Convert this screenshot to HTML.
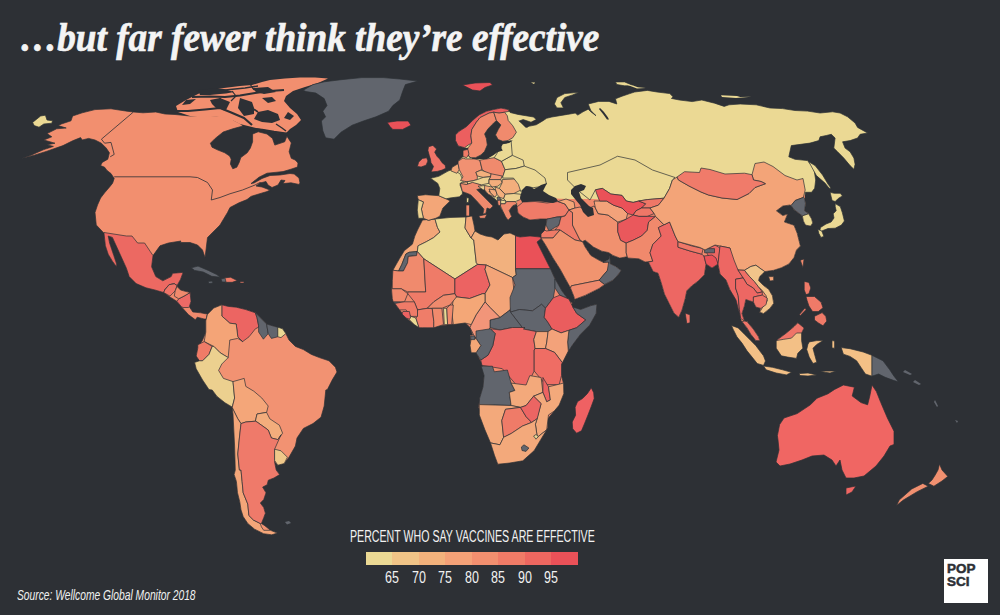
<!DOCTYPE html>
<html><head><meta charset="utf-8">
<style>
html,body{margin:0;padding:0;}
body{width:1000px;height:615px;background:#2d3035;position:relative;overflow:hidden;}
.t{position:absolute;white-space:nowrap;line-height:1;}
#title{left:20px;top:13px;font:bold italic 41px "Liberation Serif",serif;color:#f4f4f4;transform:scaleX(0.908);transform-origin:0 0;-webkit-text-stroke:0.7px #f4f4f4;}
#leg{left:350px;top:528px;font:16px "Liberation Sans",sans-serif;color:#f2f2f2;transform-origin:0 0;transform:scaleX(0.664);}
.sw{position:absolute;top:552px;height:13px;width:26.5px;}
.lab{position:absolute;top:569.5px;width:40px;text-align:center;font:16px "Liberation Sans",sans-serif;color:#f2f2f2;transform-origin:50% 0;transform:scaleX(0.78);line-height:1;}
#src{left:17px;top:587px;font:italic 14px "Liberation Sans",sans-serif;color:#f0f0f0;transform-origin:0 0;transform:scaleX(0.734);}
#logo{position:absolute;left:944px;top:559px;width:44px;height:44px;background:#fff;}
#logo span{position:absolute;left:3px;font:bold 13.5px "Liberation Sans",sans-serif;color:#2d3035;line-height:1;-webkit-text-stroke:0.5px #2d3035;}
</style></head><body>
<svg id="map" width="1000" height="615" viewBox="0 0 1000 615" style="position:absolute;left:0;top:0"><defs><clipPath id="cEur"><path d="M428.6 220.3 423.4 218.3 418.3 218.3 417.3 210.1 418.3 199.8 417.3 195.7 425.5 194.7 438.8 195.7 439.8 188.6 437.8 183.4 430.6 178.3 438.8 176.3 448 171.1 450.9 170.9 452.1 167.3 458.1 163.7 458.1 161.3 463 156.5 463 150.5 467.8 149.3 464.6 147.7 458.2 145.9 455.5 140.4 455.5 134.9 459.1 131.3 466.4 126.7 472.7 120.4 479.1 114.9 486.4 111.3 493.7 109.5 501 108.1 508.2 109.5 510.2 112.5 518 114.4 525.8 115.7 533.6 117 536.2 119.6 531 122.2 523.2 119.6 519.3 120.9 525.8 127.4 529.7 126.1 536.2 124.8 542.7 120.9 546.6 118.3 551.8 117 559.6 115.7 567.4 114.4 575.2 113.1 577.8 115.1 583 111.8 588.2 109.2 590.8 111.8 596 115.7 590.8 110.5 588.2 104 598.6 101.4 609 101.4 616.8 104 615.5 98.8 622 96.2 629.8 93.6 634.6 92 647.4 90.4 657 92 669.8 93.6 673 96.8 671.4 98.4 679.4 100 692.2 101.6 701.8 100 714.6 103.2 724.2 106.4 729 104.8 740.2 104 756.2 104.8 770 108 782.5 108.6 795 110.5 807.5 111.1 820.1 113 832.6 111.8 840.1 113 847.6 116.8 855.1 123 857.6 127.4 867.6 133 860.1 134.3 857.6 138 850.1 140.6 842.6 141.8 845.1 148.1 850.1 151.8 853.9 158.1 855.1 164.3 853.9 169.3 850.1 165.6 843.8 158.1 837.6 151.8 833.8 148.1 835.1 138 831.3 134.3 826.3 135.5 820.1 136.8 818.8 140.6 810 143.1 791.3 145.6 788.8 156.8 795 159.3 807.5 160.6 813.8 168.1 815.7 180 814.7 188.2 811.6 192.3 805.5 192.3 804.5 198.4 805.5 203.6 804.5 210.7 808.6 213.8 811.6 218.9 812.7 223 810.6 226.1 805.5 225.1 803.4 221 802.4 215.9 798.3 212.8 794.2 209.7 791.1 205.6 790 205 782.8 206 776.4 210.8 782.8 215.6 787.6 214 784.4 222 794 225.2 797.2 233.2 800.4 246 796.5 250 794 257.6 788.9 264 781.3 267.8 773.7 270.3 764.8 271.6 759.7 276.6 758.5 280.5 763.5 285.5 768.6 289.3 772.4 295.7 773.7 303.3 769.9 308.4 763.5 313.5 759.7 312.2 761 308.4 755.9 307.1 753.4 302 749.6 300.8 745.8 299.5 744.5 305.8 742 313.5 744.5 321.1 747 321.6 753.4 329.2 758.5 336.8 759.7 340.6 755.9 340.6 750.8 334.3 747 327.9 742 321.6 740.7 318.5 739.4 309.6 738.2 295.7 735.6 288.1 730 290 726 280 720 274 718 264 712 268 706 264 704.4 274.8 698 281.2 691.6 286 686.8 290.8 685.2 298.8 682 310 678.8 317.2 674 313.2 669.2 303.6 664.4 294 661.2 282.8 658 273.2 653.2 271.6 648.4 262 645.2 262 638.8 258.8 627.6 258 626.7 256.8 619.8 258.1 612.9 255.4 608.7 252.6 601.8 251.2 593.5 247.1 585.2 240.2 582.5 241.6 585.2 247.1 590.8 255.4 597.7 259.5 603.2 262.3 608.7 259.5 610 256 610.1 263.7 615.6 266.4 621.2 270.6 617 276 612.9 280.2 604.6 284.4 599.1 288.5 585.2 295.4 574.2 299.6 575 302.3 574 296.8 570.5 288 565.5 279 560 269 553 258 545.5 245 541 238 545 230 546 225 547 219 540 219 530 220 523 217 518 213 517 207 517.6 204.5 512.8 205.7 509.2 210.5 511.6 216.6 508 220.2 505.5 216.6 503.1 211.7 500.7 208.1 499.5 203.3 495.9 199.7 491.1 196.1 486.3 192.5 483.9 187.7 476.7 189.6 482.9 195.7 489 201.9 493.1 206 490 209.1 487 208 485.9 213.2 482.9 214.2 483.9 209.1 476.7 200.9 470.6 194.7 465.5 192.7 462.4 191.6 462.4 194 459.3 196.8 451.1 197.8 446 198.8 450.1 200.9 442.9 208 439.8 216.2 435.7 218.3 428.6 220.3Z"/></clipPath></defs><path d="M21.4 158.4 31 155.2 43.8 149.6 53.4 146.4 47 144.8 55 143.2 43.8 140 51.8 136.8 47 133.6 56.6 128.8 66.2 128 58.2 125.6 61.4 124 71 120.8 72.6 116 82.2 112.8 95 109.6 111 108.8 127 111.2 133.4 112 143 112.8 155.8 112 165 114 175 114.5 190 116 205 115 217 116 225 114 233 116 236.4 117 233.2 120 239.6 123.2 243 126 232.8 128.8 223.2 132 215.2 138.4 210.4 143.2 212 147.2 216.8 149.6 224.8 152.8 229.6 156 231.2 159.2 230.4 164 232.8 168.8 236.8 167.2 239.2 162.4 240.8 157.6 247.2 152.8 250.4 148 252.6 141.8 252.6 134 258.2 131.8 267 134 272.5 138.4 274.8 145.1 284.7 141.8 286.9 136.2 291.3 142.9 289.1 151.7 291.3 158.3 295.2 160 298 163 297.5 167 291 169.2 283 171.6 275 172.4 267 173.2 259 177.2 251 183.6 254 183 262 178.5 270 175.5 280 175 290 173.5 294.2 174 299 178 300 183 299 184.4 291 182.8 283 183.6 285 180.5 281 180 278 185 272 187.5 268 185 266 181.5 260 183 256 186 262 187 270 190 267 191.6 261.4 193.2 251 196.4 247 199.6 239 202.8 230 207.5 230 207.5 227.5 212.5 220 225 207.5 237.5 206 250 205 257.5 202.5 250 197.5 245 190 242.5 180 242.5 181 241 168.4 243 160 245.8 153 255.6 151.6 266.8 155.8 276.6 162.8 280.8 171.2 276.6 172.6 273.3 183.1 272.4 180.5 279.4 177 286.5 180.5 290 190.1 292.6 191 301.4 189.3 306.7 192.8 312 200.7 312.8 205.1 313.7 207.4 313.9 206.6 319 204.2 319 197.2 317.2 195.4 319.8 188.4 314.6 181.4 306.7 177 301.4 170 297 163.8 292.6 155 290 146 287.8 136.2 283.6 129.2 276.6 126.4 268.2 119.4 252.8 112.4 237.4 108.2 236 109.6 243 113.8 255.6 116.6 264 116.6 266.8 112.4 261.2 108.2 254.2 105.4 245.8 104 233.2 96.25 225 95 212.5 97.5 205 100.6 198 104.6 192.8 109.4 187.2 112.6 183.2 114.2 178.4 111 173.6 107 170.4 104.6 167.2 100.6 165.6 102.2 162.4 107.8 159.2 109.4 152.8 106.2 148 101.4 143.2 95 140 88.6 138.4 82.2 140 80.6 137.6 72.6 140.8 63 145.6 47 151.2 34.2 155.2Z" fill="#f28f6f" stroke="#2d3035" stroke-width="0.7" stroke-linejoin="round"/><path d="M176 106 186 100 200 93 212 90 224 88 240 86 252 85 262 82 270 80 285 78.5 300 77.6 315 77.6 328 78.4 318 83 305 87 293 91 286 96 284 101 290 108 297 114 301 120 296 125 290 129 285 134 276 133 266 130 256 128 248 126 240 124 232 120 222 117 205 116 190 116 178 112Z" fill="#f28f6f"/><path d="M172 111 188 111 205 109.5 220 108 230 112 244 118 252 125" fill="none" stroke="#2d3035" stroke-width="2.2" stroke-linejoin="round"/><path d="M220 98 222 104 224 110" fill="none" stroke="#2d3035" stroke-width="1.6" stroke-linejoin="round"/><path d="M192 97 210 96.5 225 97 240 95.5 255 93 270 91 284 90" fill="none" stroke="#2d3035" stroke-width="2" stroke-linejoin="round"/><path d="M212 91.5 230 89.5 245 88 258 86" fill="none" stroke="#2d3035" stroke-width="1.4" stroke-linejoin="round"/><path d="M250 84 254 90" fill="none" stroke="#2d3035" stroke-width="1.2" stroke-linejoin="round"/><path d="M232 91 236 96 231 101" fill="none" stroke="#2d3035" stroke-width="1.2" stroke-linejoin="round"/><path d="M258 112 268 110 278 114 280 120 272 123 262 122 254 119Z" fill="#2d3035"/><path d="M244 102 252 108 258 112" fill="none" stroke="#2d3035" stroke-width="1.6" stroke-linejoin="round"/><path d="M276 124 282 128 286 131" fill="none" stroke="#2d3035" stroke-width="1.4" stroke-linejoin="round"/><path d="M250 129 262 130 274 132 288 134" fill="none" stroke="#2d3035" stroke-width="2.5" stroke-linejoin="round"/><path d="M198 90 212 88.5 224 89 234 92 226 93.5 220 94 210 95 200 95Z" fill="#2d3035"/><path d="M210 100 220 98 230 102 227 108 226 110 216 108 212 104Z" fill="#2d3035"/><path d="M240 98 252 102 254 108 254 114 244 116 238 108Z" fill="#2d3035"/><path d="M252 88 268 87 276 92 264 94 256 92Z" fill="#2d3035"/><path d="M186 100 196 99 190 104 182 105Z" fill="#2d3035"/><path d="M262 98 272 97 276 101 268 103Z" fill="#2d3035"/><path d="M288 112 294 116 290 120 284 118Z" fill="#2d3035"/><path d="M133.4 112 101.4 139.2 104.6 143.2 111 142.4 114.2 154.4 110.2 156.8" fill="none" stroke="#2d3035" stroke-width="0.8" stroke-linejoin="round"/><path d="M114.2 176.8 190 176.8 197.5 177.5 207.5 182.5 212.5 190 211.25 200 220 197.5 230 193.75 242.5 190 255 185 260 182.5 266 186 270 187.5" fill="none" stroke="#2d3035" stroke-width="0.8" stroke-linejoin="round"/><path d="M32.6 122.4 40.6 116 45.4 115.2 47 120 52.6 120.8 51.8 123.2 43.8 124 39 127.2 34.2 125.6Z" fill="#ebd994" stroke="#2d3035" stroke-width="0.7" stroke-linejoin="round"/><path d="M303.2 90.2 313 84.6 324.2 81.8 341 79.7 362 77.6 383 77.6 399.8 79 418 81.1 405.4 84.6 402.6 91.6 399.8 100 392.8 105.6 388.6 111.2 376 116.8 363.4 121 352.2 125.2 341 132.2 334 139.2 325.6 137.8 322.8 130.8 321.4 121 325.6 116.8 322.8 111.2 327 105.6 324.2 98.6 315.8 93 306 91.6Z" fill="#61656d" stroke="#2d3035" stroke-width="0.7" stroke-linejoin="round"/><path d="M387.2 122.4 397 121 408.2 121 411 125.2 402.6 129.4 392.8 129.4 390 126.6Z" fill="#ea5158" stroke="#2d3035" stroke-width="0.7" stroke-linejoin="round"/><path d="M104 232.5 126.4 236 132 236 137.6 243 144.6 243 150.2 251.4 153 255.6 151.6 266.8 155.8 276.6 162.8 280.8 171.2 276.6 172.6 273.3 183.1 272.4 180.5 279.4 177 285.6 174.3 283.8 169.1 284.7 164.7 290 163.8 292.6 155 290 146 287.8 136.2 283.6 129.2 276.6 126.4 268.2 119.4 252.8 112.4 237.4 108.2 236 109.6 243 113.8 255.6 116.6 264 116.6 266.8 112.4 261.2 108.2 254.2 105.4 245.8 104 233.2Z" fill="#ec6962" stroke="#2d3035" stroke-width="0.7" stroke-linejoin="round"/><path d="M177 285.6 177 286.5 180.5 290 190.1 292.6 191 301.4 189.3 306.7 192.8 312 200.7 312.8 205.1 313.7 207.4 313.9 206.6 319 204.2 319 197.2 317.2 195.4 319.8 188.4 314.6 181.4 306.7 177 301.4 170 297 163.8 292.6 164.7 290 169.1 284.7 174.3 283.8Z" fill="#f08a6d" stroke="#2d3035" stroke-width="0.7" stroke-linejoin="round"/><path d="M178.7 298.8 184 296.1 190.1 292.6 191 301.4 189.3 306.7 188.4 307.5 183.1 307.5 181.4 306.7 177 301.4Z" fill="#ed6a66" stroke="#2d3035" stroke-width="0.7" stroke-linejoin="round"/><path d="M164.7 290 169.1 284.7 174.3 283.8 177 285.6 175.2 290.8 170 296.1 163.8 292.6Z" fill="#ef7468" stroke="#2d3035" stroke-width="0.7" stroke-linejoin="round"/><path d="M175.2 290.8 177 286.5 180.5 290 190.1 292.6 184 296.1 178.7 298.8 174.3 296.1Z" fill="#f08a6d" stroke="#2d3035" stroke-width="0.7" stroke-linejoin="round"/><path d="M191.2 267.8 198 266.1 208.3 270.4 216.8 274.6 220.2 277.2 211.7 276.3 203.2 272 194.6 270.4Z" fill="#61656d" stroke="#2d3035" stroke-width="0.7" stroke-linejoin="round"/><path d="M223.6 278 230.5 277.2 237.3 280.6 232.2 282.3 225.3 282.3Z" fill="#f07b67" stroke="#2d3035" stroke-width="0.7" stroke-linejoin="round"/><path d="M221 279 225 278 226 282 222 282Z" fill="#61656d" stroke="#2d3035" stroke-width="0.7" stroke-linejoin="round"/><path d="M208 281.5 212 281 213 283 209 283.5Z" fill="#61656d" stroke="#2d3035" stroke-width="0.7" stroke-linejoin="round"/><path d="M240 281.5 244 281.5 244 283 240 283Z" fill="#f07b67" stroke="#2d3035" stroke-width="0.7" stroke-linejoin="round"/><path d="M206.6 318.4 207.4 314.4 213.8 308 221.8 304.8 228.2 306.4 236.2 307.2 245.8 309.6 255.4 312.8 260.2 317.6 266.6 324 274.6 326.4 282.6 328.8 285.8 333.6 289 340 295.4 346.4 303.4 349.6 311.4 354.4 319.4 357.6 329 360.8 335.4 367.2 337 372 332.2 380 327.4 389.6 325.8 390 324.2 406 321 417.2 313 423.6 303.4 428.4 297 438 295.4 446 289 457.2 284.2 463.6 277.8 465.2 274.6 462 276.2 470 279.6 474.6 273.9 478 268.3 480.2 267.1 484.8 262.6 487.1 266 492.8 263.7 499.6 260.3 503 263.7 507.5 265.4 513.2 263.7 517.8 261.4 523.5 264.8 525.7 270.5 530.3 277.4 533.1 271.7 534.8 263.7 533.7 254.6 529.2 247.8 523.5 243.2 516.6 241 509.8 239.8 501.9 237.5 492.8 236.4 481.4 234.1 474.6 235.3 470 234.6 446 233.8 430 233 414 232.2 407.6 225 402.8 217 396.4 212.2 390 209 389.6 202.6 380 196.2 368.8 194.6 362.4 199.4 360.8 196.2 356 197.8 348 202.6 340 205.8 332 205.8 320.8Z" fill="#f29272" stroke="#2d3035" stroke-width="0.7" stroke-linejoin="round"/><path d="M221.8 304.8 228.2 306.4 236.2 307.2 245.8 309.6 255.4 312.8 257 317.6 258.6 325.6 258.6 327.2 255.4 328.8 249 336.8 242.6 341.6 237.8 336.8 236.2 324 229.8 323.2 221.8 316Z" fill="#ec6562" stroke="#2d3035" stroke-width="0.7" stroke-linejoin="round"/><path d="M255.4 312.8 260.2 317.6 266.6 324 268.2 333.6 263.4 339.2 258.6 332 258.6 325.6 257 317.6Z" fill="#61656d" stroke="#2d3035" stroke-width="0.7" stroke-linejoin="round"/><path d="M266.6 324 274.6 326.4 277.8 327.2 277.8 336.8 271.4 338.4 268.2 333.6Z" fill="#61656d" stroke="#2d3035" stroke-width="0.7" stroke-linejoin="round"/><path d="M277.8 327.2 282.6 328.8 285.8 333.6 281 337.6 277.8 336.8Z" fill="#ebd994" stroke="#2d3035" stroke-width="0.7" stroke-linejoin="round"/><path d="M207.4 314.4 213.8 308 221.8 304.8 221.8 316 229.8 323.2 236.2 324 237.8 336.8 242.6 341.6 237.8 338.4 229.8 340 228.2 357.6 220.2 352.8 213.8 346.4 204.2 341.6 205.8 332 205.8 320.8Z" fill="#f4a477" stroke="#2d3035" stroke-width="0.7" stroke-linejoin="round"/><path d="M197.8 344.8 204.2 341.6 212.2 346.4 209 354.4 202.6 360.8 199.4 360.8 196.2 356 197.8 348Z" fill="#f07b67" stroke="#2d3035" stroke-width="0.7" stroke-linejoin="round"/><path d="M199.4 360.8 202.6 360.8 209 354.4 212.2 346.4 213.8 346.4 220.2 352.8 228.2 357.6 221.8 364 218.6 370.4 223.4 378.4 233 381.6 234.6 398 232.2 407 225 402.8 217 396.4 212.2 390 209 389.6 202.6 380 196.2 368.8 194.6 362.4Z" fill="#ecd08f" stroke="#2d3035" stroke-width="0.7" stroke-linejoin="round"/><path d="M233 381.6 244.2 378.4 245.8 386.4 253.8 391.2 261.8 398 268.2 406 266.6 412.4 257 414 255.4 421.2 245.8 422 241 423.6 237.8 418.8 232.2 407.6 234.6 398Z" fill="#f4a679" stroke="#2d3035" stroke-width="0.7" stroke-linejoin="round"/><path d="M257 414 266.6 412.4 269.8 418.8 279.4 425.2 282.6 433.2 277.8 439.6 271.4 438 268.2 430 257 422 255.4 421.2Z" fill="#f3ad7c" stroke="#2d3035" stroke-width="0.7" stroke-linejoin="round"/><path d="M232.2 407.6 237.8 418.8 241 423.6 239.4 438 237.8 454 239.4 470 241 470 242.1 481.4 243.2 492.8 247.8 504.1 248.9 515.5 253.5 520.1 260.3 523.5 261.4 526.9 263.7 530.3 270.5 530.3 277.4 533.1 271.7 534.8 263.7 533.7 254.6 529.2 247.8 523.5 243.2 516.6 241 509.8 239.8 501.9 237.5 492.8 236.4 481.4 234.1 474.6 235.3 470 234.6 446 233.8 430 233 414Z" fill="#f4a679" stroke="#2d3035" stroke-width="0.7" stroke-linejoin="round"/><path d="M241 423.6 245.8 422 255.4 421.2 257 422 268.2 430 271.4 438 277.8 439.6 281 434.8 274.6 449.2 274.6 460.4 274.6 462 276.2 470 279.6 474.6 273.9 478 268.3 480.2 267.1 484.8 262.6 487.1 266 492.8 263.7 499.6 260.3 503 263.7 507.5 265.4 513.2 263.7 517.8 261.4 523.5 260.3 523.5 253.5 520.1 248.9 515.5 247.8 504.1 243.2 492.8 242.1 481.4 241 470 239.4 470 237.8 454 239.4 438Z" fill="#ef7a6a" stroke="#2d3035" stroke-width="0.7" stroke-linejoin="round"/><path d="M274.6 449.2 281 450.8 287.4 457.2 284.2 463.6 277.8 465.2 274.6 460.4Z" fill="#efc88a" stroke="#2d3035" stroke-width="0.7" stroke-linejoin="round"/><path d="M285 522 289 521 291 523 287 524.5Z" fill="#61656d"/><path d="M422.5 220 435 218.75 450 217.5 466 217 472 216 474 225 475 231 480 234 486 236 492 237 498 240 501 237 504 234 510 233 516 236 520 237 530 236 540 237 542.5 237.5 537 242 542.5 253 549.5 267 556.3 281 562 291 569 300.5 572.5 303 570.2 306.9 580.6 309.5 591 305.6 596.9 304.3 596.2 313.4 589.7 325.1 580.6 334.2 572.8 344.6 567.6 352.4 562.4 362.8 561.5 364.1 561.5 375.5 563.8 384.6 563.8 393.7 559.2 405.1 547.8 418.7 547.8 427.8 541 439.2 534.2 450.6 522.8 460.8 509.2 463.1 497.8 464.2 494.4 455.1 493.2 443.8 491 432.4 484.1 416.5 478.4 407.4 479.6 398.3 483 386.9 484.1 375.5 481.9 364.1 477.3 355 470.5 343.7 470 335 472.5 335 470 327.5 465 322.5 447.5 325 427.5 327.5 414.3 324.6 406.1 318 399.6 309.9 394.8 303.4 392.3 298.5 391.5 292 392.3 280.7 392.9 270.2 399.4 258.8 404.3 250.7 412.4 244.2 414.8 236.1 417.5 230Z" fill="#f08a6d" stroke="#2d3035" stroke-width="0.7" stroke-linejoin="round"/><path d="M422.5 220 435 219 437.5 227.5 440 232 433.5 237.7 426.2 241.8 418.1 245.8 417.3 251.5 409.1 252.3 405.9 254 401.8 264.5 398.6 271 392.9 270.2 399.4 258.8 404.3 250.7 412.4 244.2 414.8 236.1 417.5 230Z" fill="#f3a678" stroke="#2d3035" stroke-width="0.7" stroke-linejoin="round"/><path d="M417.3 251.5 416.5 255.6 408.3 256.4 407.5 262.9 403.4 271 398.6 271 401.8 264.5 405.9 254 409.1 252.3Z" fill="#61656d" stroke="#2d3035" stroke-width="0.7" stroke-linejoin="round"/><path d="M435 219 450 217.5 466 217 465 228 471 238 473.75 240 476.25 262.5 477.7 264.4 454.9 279 423.8 258.8 417.3 251.5 418.1 245.8 426.2 241.8 433.5 237.7 440 232 437.5 227.5Z" fill="#ebd994" stroke="#2d3035" stroke-width="0.7" stroke-linejoin="round"/><path d="M466 217 472 216 474 225 475 231 471 238 465 228Z" fill="#f3a678" stroke="#2d3035" stroke-width="0.7" stroke-linejoin="round"/><path d="M475 231 480 234 486 236 492 237 498 240 501 237 504 234 510 233 515.5 235.5 515.5 268.75 516.25 275 512.5 277.5 486.25 265 477.7 264.4 476.25 262.5 473.75 240 471 238Z" fill="#f2b17e" stroke="#2d3035" stroke-width="0.7" stroke-linejoin="round"/><path d="M515.5 235.5 516 236 520 237 530 236 540 237 542.5 237.5 537 242 542.5 253 549.5 267 550.5 268.75 515.5 268.75Z" fill="#ea5158" stroke="#2d3035" stroke-width="0.7" stroke-linejoin="round"/><path d="M398.6 271 403.4 271 407.5 262.9 408.3 256.4 416.5 255.6 417.3 251.5 423.8 258.8 425.7 292 407.8 292 401.3 288.8 392.3 288.8 392.3 280.7 392.9 270.2Z" fill="#f08a6d" stroke="#2d3035" stroke-width="0.7" stroke-linejoin="round"/><path d="M423.8 258.8 454.9 279 454.9 293.7 443.5 295.3 433.8 301.8 427.3 308.3 417.5 309.9 414.3 301.8 407.8 293.7 407.8 292 425.7 292Z" fill="#ef7b68" stroke="#2d3035" stroke-width="0.7" stroke-linejoin="round"/><path d="M454.9 279 477.7 264.4 486.25 265 485 269.3 490 285 485 293.7 482.6 293.7 469.6 298.5 456.5 296.9 454.9 293.7Z" fill="#ec6362" stroke="#2d3035" stroke-width="0.7" stroke-linejoin="round"/><path d="M486.25 265 512.5 277.5 515 300 510 310 500 317.5 490 307.5 485 301.8 485 293.7 490 285 485 269.3Z" fill="#f3a478" stroke="#2d3035" stroke-width="0.7" stroke-linejoin="round"/><path d="M515.5 268.75 550.5 268.75 555 279 555 288 553.3 297.8 545.5 308.2 541.6 304.3 532.5 310.8 519.5 309.5 510.4 312.1 510 297.5 515 285 512.5 277.5 516.25 275Z" fill="#61656d" stroke="#2d3035" stroke-width="0.7" stroke-linejoin="round"/><path d="M510.4 312.1 519.5 309.5 532.5 310.8 541.6 304.3 545.5 308.2 544.2 317.3 548.1 322.5 552 329 548.1 331.6 536.4 331.6 523.4 329Z" fill="#61656d" stroke="#2d3035" stroke-width="0.7" stroke-linejoin="round"/><path d="M555 279 556.3 281 562 291 569 300.5 568.9 299.1 559.8 295.2 555 288Z" fill="#61656d" stroke="#2d3035" stroke-width="0.7" stroke-linejoin="round"/><path d="M545.5 308.2 553.3 297.8 559.8 295.2 568.9 299.1 572.8 306.9 576.7 313.4 585.8 319.9 576.7 327.7 568.9 330.3 561.1 332.9 552 329 548.1 322.5 544.2 317.3Z" fill="#ea5d5e" stroke="#2d3035" stroke-width="0.7" stroke-linejoin="round"/><path d="M572.8 306.9 580.6 309.5 591 305.6 596.9 304.3 596.2 313.4 589.7 325.1 580.6 334.2 572.8 344.6 567.6 352.4 568.3 351.1 567.6 342 568.9 330.3 576.7 327.7 585.8 319.9 576.7 313.4Z" fill="#61656d" stroke="#2d3035" stroke-width="0.7" stroke-linejoin="round"/><path d="M490 320 500 317.5 510 310 510.4 312.1 523.4 329 525 327.5 512.5 327.5 500 330 490 327.5Z" fill="#61656d" stroke="#2d3035" stroke-width="0.7" stroke-linejoin="round"/><path d="M476.1 314.8 485 301.8 490 307.5 500 317.5 490 320 490 327.5 485 337.5 475 337.5 470 327.5 471.2 324.6Z" fill="#f29579" stroke="#2d3035" stroke-width="0.7" stroke-linejoin="round"/><path d="M453.3 298.5 456.5 296.9 469.6 298.5 482.6 293.7 485 293.7 485 301.8 476.1 314.8 471.2 324.6 465 323 453.3 324.6 451.7 311.5Z" fill="#f4a777" stroke="#2d3035" stroke-width="0.7" stroke-linejoin="round"/><path d="M490.4 328.8 500 330 512.5 327.5 525 327.5 523.4 329 536.4 331.6 533.8 339.4 535.1 348.5 534.2 350 534.2 371 531.9 375.5 529.6 386.9 516 384.6 502.3 368.7 481.9 365.3 480.8 360 488 355.2 492.8 345.6 495.2 333.6Z" fill="#ec6763" stroke="#2d3035" stroke-width="0.7" stroke-linejoin="round"/><path d="M476 331 490.4 328.8 495.2 333.6 492.8 345.6 488 355.2 480.8 360 476 352.8 480.8 345.6 476 338.4Z" fill="#61656d" stroke="#2d3035" stroke-width="0.7" stroke-linejoin="round"/><path d="M471.2 338.4 476 338.4 480.8 345.6 476 352.8 471.2 352.8 470 345.6Z" fill="#f4a777" stroke="#2d3035" stroke-width="0.7" stroke-linejoin="round"/><path d="M470.7 336 474.8 336 474.8 339.6 470.7 339.6Z" fill="#61656d" stroke="#2d3035" stroke-width="0.7" stroke-linejoin="round"/><path d="M536.4 331.6 548.1 331.6 546.8 342 545.5 348.5 535.1 348.5 533.8 339.4Z" fill="#f3a478" stroke="#2d3035" stroke-width="0.7" stroke-linejoin="round"/><path d="M548.1 331.6 552 329 561.1 332.9 568.9 330.3 567.6 342 568.3 351.1 562.4 362.8 554.6 352.4 545.5 348.5 546.8 342Z" fill="#f3a27a" stroke="#2d3035" stroke-width="0.7" stroke-linejoin="round"/><path d="M535.1 348.5 545.5 348.5 554.6 352.4 562.4 362.8 561.5 364.1 561.5 375.5 559.2 384.6 545.6 384.6 534.2 371 534.2 350Z" fill="#ef6d64" stroke="#2d3035" stroke-width="0.7" stroke-linejoin="round"/><path d="M481.2 366.2 492.4 366.2 494.3 371.8 507.4 370 511.1 383.1 514.9 390.5 509.3 392.4 511.1 405.5 479.3 404.6 479.6 398.3 483 386.9 484.1 375.5Z" fill="#61656d" stroke="#2d3035" stroke-width="0.7" stroke-linejoin="round"/><path d="M509.3 392.4 514.9 390.5 511.1 383.1 526.1 385 529.8 375.6 541.1 377.5 542.9 392.4 533.6 396.2 526.1 405.5 520.5 407.4 511.1 405.5Z" fill="#f3a97b" stroke="#2d3035" stroke-width="0.7" stroke-linejoin="round"/><path d="M542.9 377.5 548.5 386.8 550.4 399.9 546.7 401.8 542.9 392.4Z" fill="#ec6362" stroke="#2d3035" stroke-width="0.7" stroke-linejoin="round"/><path d="M542.9 392.4 546.7 401.8 550.4 399.9 548.5 386.8 563.5 383.1 563.8 393.7 559.2 405.1 554.2 411.1 548.5 414.9 546.7 429.8 537.3 437.3 535.4 424.2 541.1 403.6 533.6 396.2Z" fill="#f3a97b" stroke="#2d3035" stroke-width="0.7" stroke-linejoin="round"/><path d="M479.3 404.6 511.1 405.5 520.5 407.4 505.5 409.3 501.8 420.5 503.6 437.3 499.9 444.8 490.5 442.9 484.9 429.8 479.3 414.9Z" fill="#f3a97b" stroke="#2d3035" stroke-width="0.7" stroke-linejoin="round"/><path d="M505.5 409.3 520.5 407.4 526.1 416.7 531.7 422.4 522.4 426.1 511.1 433.6 503.6 437.3 501.8 420.5Z" fill="#ef7b68" stroke="#2d3035" stroke-width="0.7" stroke-linejoin="round"/><path d="M520.5 407.4 526.1 405.5 533.6 396.2 541.1 403.6 537.3 418.6 531.7 422.4 526.1 416.7Z" fill="#ec6563" stroke="#2d3035" stroke-width="0.7" stroke-linejoin="round"/><path d="M490.5 442.9 499.9 444.8 503.6 437.3 511.1 433.6 522.4 426.1 531.7 422.4 537.3 418.6 535.4 424.2 537.3 437.3 546.7 429.8 541 439.2 534.2 450.6 522.8 460.8 509.2 463.1 497.8 464.2 494.4 455.1Z" fill="#f3a97b" stroke="#2d3035" stroke-width="0.7" stroke-linejoin="round"/><path d="M521.4 447 524 444.8 528.9 448 526 451.4 522 450.5Z" fill="#61656d" stroke="#2d3035" stroke-width="0.7" stroke-linejoin="round"/><path d="M393 294.5 402 294 402 295.5 393 296Z" fill="#61656d"/><path d="M393.1 301.8 400 301.8 399.6 305 394.8 303.4Z" fill="#61656d" stroke="#2d3035" stroke-width="0.7" stroke-linejoin="round"/><path d="M533.6 436 536 434.5 538.3 436.5 536 439.2Z" fill="#ebd994" stroke="#2d3035" stroke-width="0.7" stroke-linejoin="round"/><path d="M391.5 288.8 401.3 288.8 407.8 293.7 404.5 301.8 393.1 301.8 392.3 298.5Z" fill="#f08a6d" stroke="#2d3035" stroke-width="0.7" stroke-linejoin="round"/><path d="M394.8 303.4 404.5 301.8 414.3 301.8 417.5 309.9 417.5 316.4 411 316.4 406.1 309.9 399.6 309.9Z" fill="#ef7b68" stroke="#2d3035" stroke-width="0.7" stroke-linejoin="round"/><path d="M402.9 311.5 409.4 311.5 411 319.7 406.1 318 402 314Z" fill="#ec6362" stroke="#2d3035" stroke-width="0.7" stroke-linejoin="round"/><path d="M409.4 319.7 411 316.4 415.9 318 419.1 327.8 414.3 324.6Z" fill="#ebd994" stroke="#2d3035" stroke-width="0.7" stroke-linejoin="round"/><path d="M417.5 309.9 427.3 308.3 432.2 308.3 433.8 321.3 433.8 327.8 422.4 327.8 419.1 327.8 415.9 318 417.5 316.4Z" fill="#ef7d69" stroke="#2d3035" stroke-width="0.7" stroke-linejoin="round"/><path d="M433.8 301.8 443.5 295.3 454.9 293.7 456.5 296.9 450 305 441.9 308.3 432.2 308.3 427.3 308.3Z" fill="#f08a6d" stroke="#2d3035" stroke-width="0.7" stroke-linejoin="round"/><path d="M432.2 308.3 441.9 308.3 443.5 324.6 433.8 327.8 433.8 321.3Z" fill="#f08a6d" stroke="#2d3035" stroke-width="0.7" stroke-linejoin="round"/><path d="M443.5 308.3 446.8 308.3 447.6 324.6 444.3 324.6Z" fill="#ebd994" stroke="#2d3035" stroke-width="0.7" stroke-linejoin="round"/><path d="M446.8 308.3 450 305 453.3 305 451.7 324.6 447.6 324.6Z" fill="#f08a6d" stroke="#2d3035" stroke-width="0.7" stroke-linejoin="round"/><path d="M591.3 387.8 593.7 392.7 594.2 398.6 591.3 406.4 588.3 414.2 584.4 423.9 581.5 430.8 576.6 433.2 572.7 428.8 572.2 422 575.6 415.2 575.1 407.3 577.6 401.5 582.5 398.6 587.3 393.7Z" fill="#ef6163" stroke="#2d3035" stroke-width="0.7" stroke-linejoin="round"/><path d="M428.6 220.3 423.4 218.3 418.3 218.3 417.3 210.1 418.3 199.8 417.3 195.7 425.5 194.7 438.8 195.7 439.8 188.6 437.8 183.4 430.6 178.3 438.8 176.3 448 171.1 450.9 170.9 452.1 167.3 458.1 163.7 458.1 161.3 463 156.5 463 150.5 467.8 149.3 464.6 147.7 458.2 145.9 455.5 140.4 455.5 134.9 459.1 131.3 466.4 126.7 472.7 120.4 479.1 114.9 486.4 111.3 493.7 109.5 501 108.1 508.2 109.5 510.2 112.5 518 114.4 525.8 115.7 533.6 117 536.2 119.6 531 122.2 523.2 119.6 519.3 120.9 525.8 127.4 529.7 126.1 536.2 124.8 542.7 120.9 546.6 118.3 551.8 117 559.6 115.7 567.4 114.4 575.2 113.1 577.8 115.1 583 111.8 588.2 109.2 590.8 111.8 596 115.7 590.8 110.5 588.2 104 598.6 101.4 609 101.4 616.8 104 615.5 98.8 622 96.2 629.8 93.6 634.6 92 647.4 90.4 657 92 669.8 93.6 673 96.8 671.4 98.4 679.4 100 692.2 101.6 701.8 100 714.6 103.2 724.2 106.4 729 104.8 740.2 104 756.2 104.8 770 108 782.5 108.6 795 110.5 807.5 111.1 820.1 113 832.6 111.8 840.1 113 847.6 116.8 855.1 123 857.6 127.4 867.6 133 860.1 134.3 857.6 138 850.1 140.6 842.6 141.8 845.1 148.1 850.1 151.8 853.9 158.1 855.1 164.3 853.9 169.3 850.1 165.6 843.8 158.1 837.6 151.8 833.8 148.1 835.1 138 831.3 134.3 826.3 135.5 820.1 136.8 818.8 140.6 810 143.1 791.3 145.6 788.8 156.8 795 159.3 807.5 160.6 813.8 168.1 815.7 180 814.7 188.2 811.6 192.3 805.5 192.3 804.5 198.4 805.5 203.6 804.5 210.7 808.6 213.8 811.6 218.9 812.7 223 810.6 226.1 805.5 225.1 803.4 221 802.4 215.9 798.3 212.8 794.2 209.7 791.1 205.6 790 205 782.8 206 776.4 210.8 782.8 215.6 787.6 214 784.4 222 794 225.2 797.2 233.2 800.4 246 796.5 250 794 257.6 788.9 264 781.3 267.8 773.7 270.3 764.8 271.6 759.7 276.6 758.5 280.5 763.5 285.5 768.6 289.3 772.4 295.7 773.7 303.3 769.9 308.4 763.5 313.5 759.7 312.2 761 308.4 755.9 307.1 753.4 302 749.6 300.8 745.8 299.5 744.5 305.8 742 313.5 744.5 321.1 747 321.6 753.4 329.2 758.5 336.8 759.7 340.6 755.9 340.6 750.8 334.3 747 327.9 742 321.6 740.7 318.5 739.4 309.6 738.2 295.7 735.6 288.1 730 290 726 280 720 274 718 264 712 268 706 264 704.4 274.8 698 281.2 691.6 286 686.8 290.8 685.2 298.8 682 310 678.8 317.2 674 313.2 669.2 303.6 664.4 294 661.2 282.8 658 273.2 653.2 271.6 648.4 262 645.2 262 638.8 258.8 627.6 258 626.7 256.8 619.8 258.1 612.9 255.4 608.7 252.6 601.8 251.2 593.5 247.1 585.2 240.2 582.5 241.6 585.2 247.1 590.8 255.4 597.7 259.5 603.2 262.3 608.7 259.5 610 256 610.1 263.7 615.6 266.4 621.2 270.6 617 276 612.9 280.2 604.6 284.4 599.1 288.5 585.2 295.4 574.2 299.6 575 302.3 574 296.8 570.5 288 565.5 279 560 269 553 258 545.5 245 541 238 545 230 546 225 547 219 540 219 530 220 523 217 518 213 517 207 517.6 204.5 512.8 205.7 509.2 210.5 511.6 216.6 508 220.2 505.5 216.6 503.1 211.7 500.7 208.1 499.5 203.3 495.9 199.7 491.1 196.1 486.3 192.5 483.9 187.7 476.7 189.6 482.9 195.7 489 201.9 493.1 206 490 209.1 487 208 485.9 213.2 482.9 214.2 483.9 209.1 476.7 200.9 470.6 194.7 465.5 192.7 462.4 191.6 462.4 194 459.3 196.8 451.1 197.8 446 198.8 450.1 200.9 442.9 208 439.8 216.2 435.7 218.3 428.6 220.3Z" fill="#ebd994" stroke="#2d3035" stroke-width="0.7" stroke-linejoin="round"/><path d="M517 199 540 198 569 199 594 199 606 200 622 195.4 638.8 200 664 197 672 181 690 186 715 197 737 199 760 186 790 182 810 200 815 230 805 260 780 320 760 345 735 345 700 330 640 330 600 310 560 310 530 250 517 240Z" fill="#f0896c" clip-path="url(#cEur)"/><path d="M455.5 134.9 459.1 131.3 466.4 126.7 472.7 120.4 479.1 114.9 486.4 111.3 493.7 109.5 501 108.1 508.2 109.5 509.1 111.3 504.6 112.2 499.1 113.1 493.7 112.2 489.1 113.1 480 117.6 476.4 122.2 471.8 129.5 470.9 135.8 471.8 143.1 468.2 145 464.6 147.7 458.2 145.9 455.5 140.4Z" fill="#ec5f5f" stroke="#2d3035" stroke-width="0.7" stroke-linejoin="round"/><path d="M471.8 143.1 470.9 135.8 471.8 129.5 476.4 122.2 480 117.6 489.1 113.1 493.7 112.2 496.4 120.4 492.8 124 488.2 128.6 484.6 134 486.4 138.6 487.3 145 484.6 151.3 480.9 155 475.5 157.7 470 157.7 466.4 153.1 468.2 147.7Z" fill="#f08a6d" stroke="#2d3035" stroke-width="0.7" stroke-linejoin="round"/><path d="M496.4 120.4 493.7 112.2 499.1 113.1 504.6 112.2 507.3 115.8 508.2 120.4 512.8 125.8 516.4 132.2 512.8 137.7 508.2 140.4 502.8 141.3 498.2 139.5 495.5 134.9 498.2 129.5 500.9 124.9Z" fill="#f08a6d" stroke="#2d3035" stroke-width="0.7" stroke-linejoin="round"/><path d="M417.3 195.7 425.5 194.7 438.8 195.7 446 198.8 450.1 200.9 442.9 208 439.8 216.2 435.7 218.3 428.6 220.3 423.4 218.3 421.4 209.1 423.4 201.9 418.3 199.8Z" fill="#f3a678" stroke="#2d3035" stroke-width="0.7" stroke-linejoin="round"/><path d="M418.3 199.8 423.4 201.9 421.4 209.1 423.4 218.3 418.3 218.3 417.3 210.1Z" fill="#ebd190" stroke="#2d3035" stroke-width="0.7" stroke-linejoin="round"/><path d="M430.6 178.3 438.8 176.3 448 171.1 453.2 169.1 460.3 174.2 463.4 181.4 460.3 183.4 460.3 185.5 462.4 191.6 462.4 194 459.3 196.8 451.1 197.8 446 198.8 438.8 195.7 439.8 188.6 437.8 183.4Z" fill="#ebd994" stroke="#2d3035" stroke-width="0.7" stroke-linejoin="round"/><path d="M450.9 170.9 452.1 167.3 458.1 163.7 459.3 169.7 456.9 173.3Z" fill="#f3a678" stroke="#2d3035" stroke-width="0.7" stroke-linejoin="round"/><path d="M458.1 163.7 458.1 161.3 463 158 465.4 158.9 473.8 158.9 479.8 160.1 482.2 169.7 481 170.1 475.9 172.3 477.3 176 477.3 179.6 472 181 466.6 181.7 460.5 180.5 463 176.9 459.3 169.7Z" fill="#f19172" stroke="#2d3035" stroke-width="0.7" stroke-linejoin="round"/><path d="M479.8 160.1 494.2 157.7 501.5 161.3 505.1 169.7 502.7 176.9 494.2 175.7 487 173.3 482.2 169.7Z" fill="#f08a6d" stroke="#2d3035" stroke-width="0.7" stroke-linejoin="round"/><path d="M475.9 172.3 481 170.1 491.2 173.8 490.5 176.7 483.2 177.4 477.3 176Z" fill="#f3b07d" stroke="#2d3035" stroke-width="0.7" stroke-linejoin="round"/><path d="M491.2 173.8 502.2 176 500.7 179.6 493.4 179.6 489 179.6 490.5 176.7Z" fill="#f39a78" stroke="#2d3035" stroke-width="0.7" stroke-linejoin="round"/><path d="M477.3 179.6 483.2 177.4 490.5 176.7 489 179.6 489 183.3 481.7 184.8 475.9 184 472 183 467.8 184.2 467 181.7 472 181Z" fill="#ecd190" stroke="#2d3035" stroke-width="0.7" stroke-linejoin="round"/><path d="M460.3 183.4 466.6 181.7 467.8 184.2 466.5 184.5 460.3 185.5Z" fill="#f3a97b" stroke="#2d3035" stroke-width="0.7" stroke-linejoin="round"/><path d="M489 179.6 500.7 179.6 502.2 182.6 497.8 186.2 491.9 187 489 183.3Z" fill="#f3ae7c" stroke="#2d3035" stroke-width="0.7" stroke-linejoin="round"/><path d="M502.2 179.6 515.4 178.9 521.2 184.8 522.7 189.1 513.9 193.5 505.1 194.3 499.3 188.4 502.2 182.6Z" fill="#f3ae7c" stroke="#2d3035" stroke-width="0.7" stroke-linejoin="round"/><path d="M460.3 183.4 466.5 184.5 472.6 182.4 479.8 184.5 483.9 187.7 476.7 189.6 482.9 195.7 489 201.9 493.1 206 490 209.1 487 208 485.9 213.2 482.9 214.2 483.9 209.1 476.7 200.9 470.6 194.7 465.5 192.7 462.4 191.6Z" fill="#f08a6d" stroke="#2d3035" stroke-width="0.7" stroke-linejoin="round"/><path d="M478.8 216 487 214.2 485 218.3 480 218.3Z" fill="#f08a6d" stroke="#2d3035" stroke-width="0.7" stroke-linejoin="round"/><path d="M466 205 469.5 205 469.5 216 466 216Z" fill="#f08a6d" stroke="#2d3035" stroke-width="0.7" stroke-linejoin="round"/><path d="M466.5 197.8 469 198 468.5 202.5 466.5 202.5Z" fill="#ebd994" stroke="#2d3035" stroke-width="0.7" stroke-linejoin="round"/><path d="M478 186.2 484.6 185.5 487.6 188.4 483.2 189.9Z" fill="#ecd090" stroke="#2d3035" stroke-width="0.7" stroke-linejoin="round"/><path d="M484.6 185.5 491.9 187 494.9 189.9 489 191.3 494.9 197.2 488.3 194.3 484.6 189.9Z" fill="#f3a97b" stroke="#2d3035" stroke-width="0.7" stroke-linejoin="round"/><path d="M489 189.1 495.6 189.9 497.1 194.3 494.9 197.2 490.5 192.8Z" fill="#f3a97b" stroke="#2d3035" stroke-width="0.7" stroke-linejoin="round"/><path d="M494.9 187 499.3 188.4 505.1 194.3 503.7 198.7 499.3 197.2 497.1 194.3 495.6 189.9Z" fill="#f3ae7c" stroke="#2d3035" stroke-width="0.7" stroke-linejoin="round"/><path d="M497 197.2 499.3 197.2 501.5 200.1 497.5 200.5Z" fill="#61656d" stroke="#2d3035" stroke-width="0.7" stroke-linejoin="round"/><path d="M497.5 200.5 500.7 200.1 500.7 203.8 500.5 206 498 205Z" fill="#f08a6d" stroke="#2d3035" stroke-width="0.7" stroke-linejoin="round"/><path d="M500.7 200.1 505.8 200.8 505.1 203.8 500.7 203.8Z" fill="#ebd994" stroke="#2d3035" stroke-width="0.7" stroke-linejoin="round"/><path d="M505.1 194.3 513.9 193.5 521.2 194.3 520.5 199.4 515.4 201.6 506.6 201.6 503.7 198.7Z" fill="#ecd190" stroke="#2d3035" stroke-width="0.7" stroke-linejoin="round"/><path d="M500.7 203.8 505.1 203.8 506.6 201.6 515.4 201.6 517 204 512.8 205.7 509.2 210.5 511.6 216.6 508 220.2 505.5 216.6 503.1 211.7 500.5 206Z" fill="#f08a6d" stroke="#2d3035" stroke-width="0.7" stroke-linejoin="round"/><path d="M501.5 161.3 512.3 155.3 523.1 160.1 524.3 166.1 515.9 168.5 505.1 169.7Z" fill="#ebd994" stroke="#2d3035" stroke-width="0.7" stroke-linejoin="round"/><path d="M505.1 169.7 515.9 168.5 524.3 166.1 535 170 545 178 546.5 184.1 541.6 186.5 533.2 187.7 527.2 186.5 523.6 190.1 520.7 191.4 518.3 184.2 513.5 178.1 502.7 178.1 502.7 176.9Z" fill="#ebd994" stroke="#2d3035" stroke-width="0.7" stroke-linejoin="round"/><path d="M494.2 157.7 496.6 154.1 499 149.3 501.5 148.1 499 144.4 506.3 143.2 511.1 140.8 512.3 155.3 501.5 161.3Z" fill="#ebd994" stroke="#2d3035" stroke-width="0.7" stroke-linejoin="round"/><path d="M517 207 523 202 535 201.5 547 203 558 201.5 565 204 569 210 565 216 557 217 549 219 540 219 530 220 523 217 518 213Z" fill="#ef7b68" stroke="#2d3035" stroke-width="0.7" stroke-linejoin="round"/><path d="M558 201.5 566 199 574 202 575 208 569 210 565 204Z" fill="#f3a678" stroke="#2d3035" stroke-width="0.7" stroke-linejoin="round"/><path d="M547 219 557 217 561 217 559 225 549 231 546 225Z" fill="#61656d" stroke="#2d3035" stroke-width="0.7" stroke-linejoin="round"/><path d="M561 217 565 216 569 210 572.5 212.5 572.5 225 580 240 582.5 241.6 575 240 560 230 555 230 559 225Z" fill="#ef7b68" stroke="#2d3035" stroke-width="0.7" stroke-linejoin="round"/><path d="M545 230 546 231 555 230 560 230 553 238 545 238 541 238 541 234Z" fill="#f07b67" stroke="#2d3035" stroke-width="0.7" stroke-linejoin="round"/><path d="M553 238 560 230 575 240 582.5 241.6 585.2 247.1 590.8 255.4 597.7 259.5 603.2 262.3 608.7 262 610.1 266 607.3 270.6 599.1 280.2 585.2 283 571.4 285.8 570.5 288 565.5 279 560 269 553 258 545.5 245 541 238 545 238Z" fill="#f1946f" stroke="#2d3035" stroke-width="0.7" stroke-linejoin="round"/><path d="M571.4 285.8 585.2 283 599.1 280.2 604.6 284.4 599.1 288.5 585.2 295.4 574.2 299.6 575 302.3 574 296.8 570.5 288Z" fill="#f08a6d" stroke="#2d3035" stroke-width="0.7" stroke-linejoin="round"/><path d="M603.2 262.3 608.7 259.5 610 256 610.1 263.7 615.6 266.4 621.2 270.6 617 276 612.9 280.2 604.6 284.4 599.1 280.2 607.3 270.6 608.7 262Z" fill="#61656d" stroke="#2d3035" stroke-width="0.7" stroke-linejoin="round"/><path d="M569 210 575 208 580 207 585 210 594 206 595.4 208 598.2 213.6 608 215 617.8 222 617.8 223.4 617.8 231.8 620.6 240.2 626.2 243 626.2 252.8 627.6 258 626.7 256.8 619.8 258.1 612.9 255.4 608.7 252.6 601.8 251.2 593.5 247.1 585.2 240.2 582.5 241.6 580 240 572.5 225 572.5 212.5Z" fill="#f1916f" stroke="#2d3035" stroke-width="0.7" stroke-linejoin="round"/><path d="M567.5 172.5 600 165 617.5 156.25 635 160 652.5 170 675 177.5 672.4 180 669.6 188.4 664 198.2 647.2 199.6 638.8 201 633.2 202.4 626.2 201 622 195.4 610.8 194 602.4 188.4 595.4 189.8 590 200 577.5 190 567.5 180Z" fill="#ebd994" stroke="#2d3035" stroke-width="0.7" stroke-linejoin="round"/><path d="M594 201 599.6 201 606.6 201 613.6 205.2 622 208 627.6 213.6 626.2 219.2 617.8 222 608 215 598.2 213.6 595.4 208Z" fill="#f3a27a" stroke="#2d3035" stroke-width="0.7" stroke-linejoin="round"/><path d="M595.4 189.8 602.4 188.4 610.8 194 622 195.4 626.2 201 633.2 202.4 638.8 201 645.8 203.8 641.6 208 636 210.8 633.2 215 627.6 213.6 622 208 613.6 205.2 606.6 201 599.6 201 596.8 194Z" fill="#ea5158" stroke="#2d3035" stroke-width="0.7" stroke-linejoin="round"/><path d="M638.8 201 647.2 199.6 664 198.2 658.4 205.2 650 208 644.4 208 641.6 208 645.8 203.8Z" fill="#ee7767" stroke="#2d3035" stroke-width="0.7" stroke-linejoin="round"/><path d="M636 210.8 641.6 208 650 208 654.2 213.6 647.2 216.4 638.8 216.4 633.2 215Z" fill="#ee7767" stroke="#2d3035" stroke-width="0.7" stroke-linejoin="round"/><path d="M617.8 223.4 626.2 219.2 633.2 215 638.8 216.4 647.2 216.4 655.6 216.4 648.6 222 647.2 230.4 641.6 236 633.2 240.2 626.2 243 620.6 240.2 617.8 231.8Z" fill="#ea585c" stroke="#2d3035" stroke-width="0.7" stroke-linejoin="round"/><path d="M655.6 216.4 664 224.8 658.4 227.6 661.2 236 652.8 244.4 650 252.8 652.8 261.2 645.2 262 638.8 258.8 627.6 258 626.2 252.8 626.2 243 633.2 240.2 641.6 236 647.2 230.4 648.6 222Z" fill="#f0896c" stroke="#2d3035" stroke-width="0.7" stroke-linejoin="round"/><path d="M664 224.8 669.6 222 675.2 236 678 241.6 678 247.2 690 251 701.8 254.2 704 256 706 264 704.4 274.8 698 281.2 691.6 286 686.8 290.8 685.2 298.8 682 310 678.8 317.2 674 313.2 669.2 303.6 664.4 294 661.2 282.8 658 273.2 653.2 271.6 648.4 262 652.8 261.2 650 252.8 652.8 244.4 661.2 236 658.4 227.6Z" fill="#ed6763" stroke="#2d3035" stroke-width="0.7" stroke-linejoin="round"/><path d="M705 250 715 245 720 248 718 264 712 262 708 255Z" fill="#ed6763" stroke="#2d3035" stroke-width="0.7" stroke-linejoin="round"/><path d="M704 256 712 255 716 258 718 264 712 268 706 264Z" fill="#ea5158" stroke="#2d3035" stroke-width="0.7" stroke-linejoin="round"/><path d="M678 241.6 692 246 703.2 248.6 701.8 254.2 690 251 678 247.2Z" fill="#ee7767" stroke="#2d3035" stroke-width="0.7" stroke-linejoin="round"/><path d="M704.6 248.6 714.5 248.6 714.5 252.8 704.6 252.8Z" fill="#61656d" stroke="#2d3035" stroke-width="0.7" stroke-linejoin="round"/><path d="M672.4 180 677 177 678.5 180 689 186 701 192 708.5 195 722 198 737 199.5 749 193.5 755 187.5 765.4 183.7 761 181.5 753.5 180 752 174.7 755 163.5 764 162 773 166.5 785 175.5 797 180 803 178.5 805.2 190 803.4 197.4 795.2 200.5 791.1 205.6 790 205 782.8 206 776.4 210.8 782.8 215.6 787.6 214 784.4 222 794 225.2 797.2 233.2 800.4 246 796.5 250 794 257.6 788.9 264 781.3 267.8 773.7 270.3 764.8 271.6 761 269 755.9 265.2 750.8 266.5 744.5 270.3 738 270 730 260 730 248 720 246 715 245 705 250 700 247.5 678 241.6 675.2 236 669.6 222 664 224.8 655.6 216.4 654.2 213.6 650 208 658.4 205.2 664 198.2 669.6 188.4Z" fill="#f3a478" stroke="#2d3035" stroke-width="0.7" stroke-linejoin="round"/><path d="M677 177 684.5 171.7 699.5 172.5 701 168 710 169.5 725 174 744.5 173.2 752 174.7 753.5 180 761 181.5 765.4 183.7 755 187.5 749 193.5 737 199.5 722 198 708.5 195 701 192 689 186 678.5 180Z" fill="#f07b6a" stroke="#2d3035" stroke-width="0.7" stroke-linejoin="round"/><path d="M795.2 200.5 803.4 197.4 804.5 198.4 805.5 203.6 804.5 210.7 808.6 213.8 802.4 215.9 798.3 212.8 794.2 209.7 791.1 205.6Z" fill="#61656d" stroke="#2d3035" stroke-width="0.7" stroke-linejoin="round"/><path d="M802.4 215.9 808.6 213.8 811.6 218.9 812.7 223 810.6 226.1 805.5 225.1 803.4 221Z" fill="#ebd994" stroke="#2d3035" stroke-width="0.7" stroke-linejoin="round"/><path d="M720 246 730 248 734 260 738 270 743.2 277.9 735.6 279.2 735.6 288.1 738.2 295.7 739.4 309.6 740.7 318.5 736 300 730 290 726 280 720 274 718 264Z" fill="#ed6763" stroke="#2d3035" stroke-width="0.7" stroke-linejoin="round"/><path d="M744.5 270.3 749.6 276.6 754.6 281.7 758.5 286.8 762.3 291.9 757.2 293.1 753.4 288.1 747 284.3 743.2 277.9 738 270Z" fill="#ee6f66" stroke="#2d3035" stroke-width="0.7" stroke-linejoin="round"/><path d="M744.5 270.3 750.8 266.5 755.9 265.2 761 269 764.8 271.6 759.7 276.6 758.5 280.5 763.5 285.5 768.6 289.3 772.4 295.7 773.7 303.3 769.9 308.4 763.5 313.5 759.7 312.2 763.5 305.8 767.3 300.8 766.1 295.7 762.3 290.6 758.5 286.8 754.6 281.7 749.6 276.6Z" fill="#f2c48a" stroke="#2d3035" stroke-width="0.7" stroke-linejoin="round"/><path d="M735.6 279.2 743.2 277.9 747 284.3 753.4 288.1 757.2 293.1 762.3 291.9 762.3 295.1 753.4 297 753.4 302 749.6 300.8 745.8 299.5 744.5 305.8 742 313.5 744.5 321.1 740.7 318.5 739.4 309.6 738.2 295.7 735.6 288.1Z" fill="#ed6763" stroke="#2d3035" stroke-width="0.7" stroke-linejoin="round"/><path d="M753.4 297 762.3 295.1 767.3 298.2 766.1 304.6 761 308.4 755.9 307.1 753.4 302Z" fill="#ef7468" stroke="#2d3035" stroke-width="0.7" stroke-linejoin="round"/><path d="M744.5 321.1 747 321.6 753.4 329.2 758.5 336.8 759.7 340.6 755.9 340.6 750.8 334.3 747 327.9 742 321.6Z" fill="#ef7468" stroke="#2d3035" stroke-width="0.7" stroke-linejoin="round"/><path d="M458.5 147.5 464.6 148 468.2 147.7 466.4 153.1 470 157.7 475.5 157.7 480.9 155 484.6 151.3 487.3 145 486.4 138.6 484.6 134 488.2 128.6 492.8 124 496.4 120.4 500.9 124.9 498.2 129.5 495.5 134.9 498.2 139.5 502.8 141.3 512.8 140.4 509.1 143.1 502.8 144 501 147.7 502.8 150.4 497.3 152.2 493.7 155 487 158.9 479.8 158.9 472.6 158.9 469 156 469 154.1 467.8 149.3 463 150.5 458 149.5Z" fill="#2d3035"/><path d="M520 198 522 190 526 186 531 187 534 189 538 187 541 185 547 183 545 187 543 191 549 195 556 198 558 201 553 203 545 202 535 201 527 202 522 202Z" fill="#2d3035"/><path d="M571 190 575 186 581 184 586 186 584 190 579 192 581 198 585 202 589 206 593 208 594 215 588 217 583 212 580 205 575 199 571 194Z" fill="#2d3035"/><path d="M518.2 120.4 524.6 122.2 529.2 124 527.3 127.7 522.8 124Z" fill="#2d3035"/><path d="M600 108 603.8 111.8 607.7 117 609 119.6 607 119.6 603 114 599 109Z" fill="#2d3035"/><path d="M463 150.5 467.8 149.3 469 154.1 466.6 157.7 463 156.5Z" fill="#f07b67" stroke="#2d3035" stroke-width="0.7" stroke-linejoin="round"/><path d="M428.5 146.7 432.9 145.4 436.6 149.1 434.7 152.2 437.2 156.5 439.7 159 442.1 162.7 445.2 165.2 445.8 168.3 442.1 170.1 437.2 171.4 431 172 432.2 169.5 433.5 166.4 431 162.7 430.4 159 429.2 155.3 427.9 150.4Z" fill="#ef7468" stroke="#2d3035" stroke-width="0.7" stroke-linejoin="round"/><path d="M418.7 162.1 422.4 158.4 426.7 157.8 427.9 160.9 426.1 165.2 421.1 167 417.4 166.4Z" fill="#ef7468" stroke="#2d3035" stroke-width="0.7" stroke-linejoin="round"/><path d="M462.5 85 475 83 490 82.5 492.5 85 485 87.5 480 91 472.5 90Z" fill="#ea5158" stroke="#2d3035" stroke-width="0.7" stroke-linejoin="round"/><path d="M554.4 104 557 97.5 564.8 93.6 579.1 92.3 572.6 94.9 564.8 97.5 560.9 102.7 563.5 107.9 557 107.9Z" fill="#ebd994" stroke="#2d3035" stroke-width="0.7" stroke-linejoin="round"/><path d="M615.5 81.9 624.6 81.9 633.7 85.8 624.6 85.8 616.8 84.5Z" fill="#ebd994" stroke="#2d3035" stroke-width="0.7" stroke-linejoin="round"/><path d="M625 84 633 85.6 637.8 87.2 645.8 88 637 88.5Z" fill="#ebd994"/><path d="M721 95.2 737 96 740.2 97 751.4 96.8 736 98 722 97Z" fill="#ebd994"/><path d="M531 82.5 535 82.5 534 84Z" fill="#ebd994"/><path d="M808.8 161.8 815.1 165.6 822.6 175 828 184.1 831.1 188.2 829.1 188.2 825 183.1 816.4 175.6Z" fill="#ebd994" stroke="#2d3035" stroke-width="0.7" stroke-linejoin="round"/><path d="M830.1 192.3 834.2 193.3 840.3 193.3 842.4 195.9 838.3 198.4 835.2 201.5 832.1 200.5 831.1 196.4Z" fill="#ebd994" stroke="#2d3035" stroke-width="0.7" stroke-linejoin="round"/><path d="M835.2 203.6 840.3 206.6 842.4 212.8 844.4 221 841.4 225.1 835.2 228.2 828 228.5 822.9 230.5 819.5 232 820.5 227.5 826 224 831.1 222 834 218 833.2 213.8 836.2 210.7 835.2 206.6Z" fill="#ebd994" stroke="#2d3035" stroke-width="0.7" stroke-linejoin="round"/><path d="M817.8 229.2 821.9 231.2 823.9 236.4 820.9 237.4 818.8 233.3Z" fill="#ebd994" stroke="#2d3035" stroke-width="0.7" stroke-linejoin="round"/><path d="M800.3 260.2 804.1 258.9 802.9 267.8Z" fill="#f08a6d" stroke="#2d3035" stroke-width="0.7" stroke-linejoin="round"/><path d="M768.6 276.6 773.7 276.6 773.7 280.5 769.9 281.1Z" fill="#f3a478" stroke="#2d3035" stroke-width="0.7" stroke-linejoin="round"/><path d="M685.2 313.2 690 314.8 690 322.8 686.8 323.6Z" fill="#ef7468" stroke="#2d3035" stroke-width="0.7" stroke-linejoin="round"/><path d="M804.2 281.4 808.9 282.4 810.8 288 808.9 293.7 806 294.6 804.2 289.9Z" fill="#ef7a68" stroke="#2d3035" stroke-width="0.7" stroke-linejoin="round"/><path d="M810 300 815 300 818 304 814 305Z" fill="#2d3035"/><path d="M813 307 819 306 818 309 814 309.5Z" fill="#2d3035"/><path d="M814.5 316.3 822.1 312.6 825.8 316.3 826.8 321.1 823 325.8 818.3 322.9 814.5 320.1Z" fill="#ef7a68" stroke="#2d3035" stroke-width="0.7" stroke-linejoin="round"/><path d="M806 296.5 814.5 296.5 821.1 302.2 823 307.8 818.3 311.6 812.6 311.6 808.9 306 807 300.3Z" fill="#ef7a68" stroke="#2d3035" stroke-width="0.7" stroke-linejoin="round"/><path d="M799.4 314.5 805.1 307.8 806 309.7 800.4 315.4Z" fill="#ef7a68" stroke="#2d3035" stroke-width="0.7" stroke-linejoin="round"/><path d="M832 340.6 834.6 341 834.6 348.2 832 348Z" fill="#f3c086" stroke="#2d3035" stroke-width="0.7" stroke-linejoin="round"/><path d="M820 371.5 825.7 371.1 835.9 371.1 830 373Z" fill="#f3c086" stroke="#2d3035" stroke-width="0.7" stroke-linejoin="round"/><path d="M905 370 912 374 910 375 903 372Z" fill="#61656d"/><path d="M915 380 921 384 919 385 913 382Z" fill="#61656d"/><path d="M935 400 938 406 937 407 934 402Z" fill="#61656d"/><path d="M955 420 958 421 957 423Z" fill="#61656d"/><path d="M731.5 325.5 738.2 327.9 744.5 334.3 750.8 340.6 755.9 345.7 759.7 350.8 763.5 355.8 765.5 361 763.5 365.4 757.2 363.5 752.1 357.1 747 350.8 742 343.1 736.9 336.8 733.1 329.2Z" fill="#f3c086" stroke="#2d3035" stroke-width="0.7" stroke-linejoin="round"/><path d="M776.2 340.6 781.3 336.8 786.4 333 794 326.6 797.8 322.8 804.1 327.9 801.6 333 801.6 340.6 802.9 348.2 797.8 353.3 796.5 358.4 787.6 357.1 781.3 355.8 776.2 348.2Z" fill="#f3c086" stroke="#2d3035" stroke-width="0.7" stroke-linejoin="round"/><path d="M776.2 340.6 781.3 336.8 786.4 333 794 326.6 797.8 322.8 804.1 327.9 801.6 333 796.5 333 791.5 338.1 783.8 339.3Z" fill="#ef7468" stroke="#2d3035" stroke-width="0.7" stroke-linejoin="round"/><path d="M809.2 341.9 816.8 340.6 823.2 340.6 816.8 344.4 813 348.2 814.3 353.3 816.8 362.2 813 363.5 809.2 357.1 806.7 349.5 807.9 344.4Z" fill="#f3c086" stroke="#2d3035" stroke-width="0.7" stroke-linejoin="round"/><path d="M763.5 366 772.4 367.3 782.6 369.8 791.5 372.3 786.4 374.9 776.2 373 766.1 369.8Z" fill="#f3c086" stroke="#2d3035" stroke-width="0.7" stroke-linejoin="round"/><path d="M799.1 373.6 808 373 816.8 374.9 808 376 800 375.5Z" fill="#f3c086" stroke="#2d3035" stroke-width="0.7" stroke-linejoin="round"/><path d="M841.2 347.6 850 348.7 863.2 352 872 355.3 872 376.2 865.4 374 861 367.4 856.6 360.8 850 356.4 843.4 354.2Z" fill="#f3c086" stroke="#2d3035" stroke-width="0.7" stroke-linejoin="round"/><path d="M872 355.3 883 360.8 889.6 369.6 894 376.2 898.4 381.7 894 380.6 885.2 377.3 878.6 374 872 376.2Z" fill="#61656d" stroke="#2d3035" stroke-width="0.7" stroke-linejoin="round"/><path d="M779.6 424.6 784 418 797.2 413.6 810.4 404.8 817 398.2 828 393.8 834.6 389.4 843.4 385 854.4 387.2 852.2 396 861 402.6 867.6 404.8 869.8 396 872 385 876.4 391.6 880.8 402.6 887.4 418 894 431.2 894 444.4 890 446 884 456 876 466 864 476 854 478 846 478 842 470 840 460 836 466 832 460 824 455 812 456 802 460 790 464 780 466 776 462 779 450 778 440 777.4 435.6Z" fill="#f06663" stroke="#2d3035" stroke-width="0.7" stroke-linejoin="round"/><path d="M846 488 856 486 852 492 846 495Z" fill="#f06663" stroke="#2d3035" stroke-width="0.7" stroke-linejoin="round"/><path d="M939.5 464 942 470 947.8 476.4 942 481 933.9 486.2 928.3 483.4 932 480 935.2 475 938 470Z" fill="#f19070" stroke="#2d3035" stroke-width="0.7" stroke-linejoin="round"/><path d="M928.3 486.2 917.2 491.7 903.4 500 896.5 505.5 899.2 500 911.7 489 922.8 483.4Z" fill="#f19070" stroke="#2d3035" stroke-width="0.7" stroke-linejoin="round"/></svg>
<div class="t" id="title">…but far fewer think they’re effective</div>
<div class="t" id="leg">PERCENT WHO SAY VACCINES ARE EFFECTIVE</div>
<div class="sw" style="left:365.5px;background:#ebd994"></div>
<div class="sw" style="left:392px;background:#f0c487"></div>
<div class="sw" style="left:418.5px;background:#f3b27c"></div>
<div class="sw" style="left:445px;background:#f4a177"></div>
<div class="sw" style="left:471.5px;background:#f28f6f"></div>
<div class="sw" style="left:498px;background:#f07b67"></div>
<div class="sw" style="left:524.5px;background:#ed6760"></div>
<div class="sw" style="left:551px;background:#ea5158"></div>
<div class="lab" style="left:372.0px">65</div>
<div class="lab" style="left:398.5px">70</div>
<div class="lab" style="left:425.0px">75</div>
<div class="lab" style="left:451.5px">80</div>
<div class="lab" style="left:478.0px">85</div>
<div class="lab" style="left:504.5px">90</div>
<div class="lab" style="left:531.0px">95</div>
<div class="t" id="src">Source: Wellcome Global Monitor 2018</div>
<div id="logo"><span style="top:2.5px">POP</span><span style="top:15.5px">SCI</span></div>
</body></html>
